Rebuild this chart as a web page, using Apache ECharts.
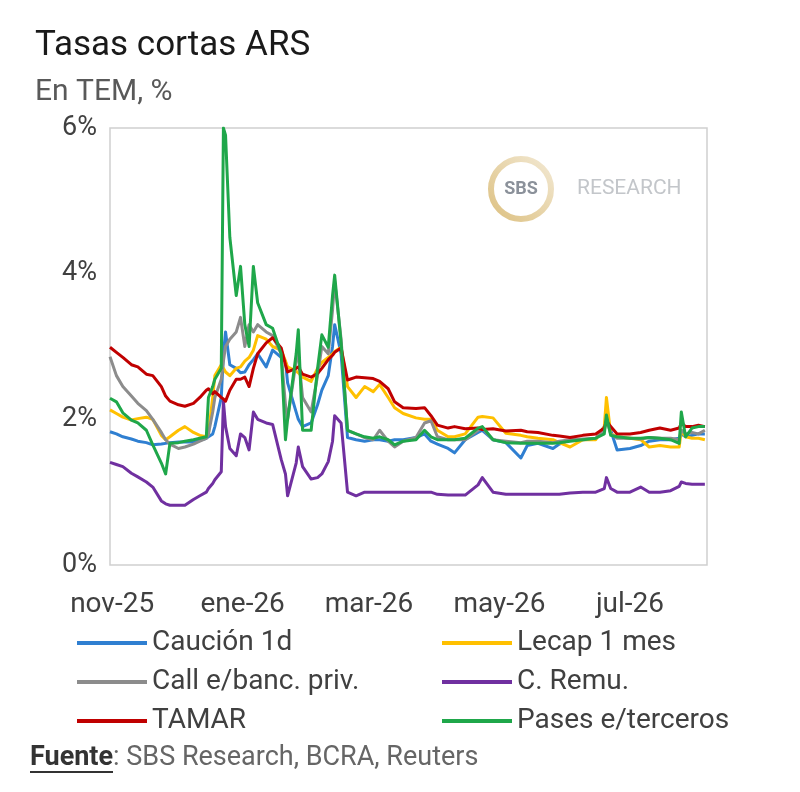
<!DOCTYPE html>
<html>
<head>
<meta charset="utf-8">
<title>Tasas cortas ARS</title>
<script src="https://cdn.jsdelivr.net/npm/echarts@6/dist/echarts.min.js"></script>
<style>
    html, body { margin: 0; padding: 0; background: #fff; }
    #chart { width: 800px; height: 792px; }
</style>
</head>
<body>
<div id="chart"></div>
<script>
// Tasas cortas ARS, TEM in %

const dates = [
    '2025-10-31', '2025-11-03', '2025-11-06', '2025-11-10', '2025-11-13', '2025-11-17', '2025-11-20', '2025-11-24', '2025-11-26', '2025-11-28',
    '2025-12-02', '2025-12-05', '2025-12-09', '2025-12-12', '2025-12-15', '2025-12-16', '2025-12-18', '2025-12-19', '2025-12-22', '2025-12-23',
    '2025-12-24', '2025-12-26', '2025-12-29', '2025-12-31', '2026-01-02', '2026-01-04', '2026-01-06', '2026-01-08', '2026-01-12', '2026-01-15',
    '2026-01-19', '2026-01-21', '2026-01-22', '2026-01-26', '2026-01-27', '2026-01-29', '2026-02-02', '2026-02-05', '2026-02-07', '2026-02-10',
    '2026-02-12', '2026-02-13', '2026-02-16', '2026-02-19', '2026-02-23', '2026-02-27', '2026-03-03', '2026-03-06', '2026-03-10', '2026-03-13',
    '2026-03-17', '2026-03-23', '2026-03-27', '2026-03-30', '2026-04-02', '2026-04-07', '2026-04-10', '2026-04-15', '2026-04-21', '2026-04-23',
    '2026-04-28', '2026-05-04', '2026-05-11', '2026-05-14', '2026-05-19', '2026-05-26', '2026-05-29', '2026-06-03', '2026-06-09', '2026-06-15',
    '2026-06-19', '2026-06-20', '2026-06-22', '2026-06-25', '2026-07-01', '2026-07-06', '2026-07-10', '2026-07-15', '2026-07-20', '2026-07-24',
    '2026-07-25', '2026-07-27', '2026-07-30', '2026-08-02', '2026-08-05',
];

const caucion = [
    1.83, 1.80, 1.76, 1.73, 1.70, 1.68, 1.65, 1.66, 1.67, 1.68,
    1.69, 1.69, 1.69, 1.71, 1.74, 1.76, 1.80, 1.90, 2.30, 2.90,
    3.20, 2.75, 2.70, 2.64, 2.65, 2.75, 2.82, 2.90, 2.72, 2.95,
    2.85, 2.80, 2.50, 2.10, 2.00, 1.90, 1.95, 2.20, 2.40, 2.60,
    3.00, 3.30, 2.90, 1.75, 1.72, 1.70, 1.72, 1.72, 1.70, 1.72,
    1.72, 1.75, 1.80, 1.70, 1.66, 1.60, 1.54, 1.72, 1.82, 1.85,
    1.72, 1.68, 1.47, 1.64, 1.67, 1.60, 1.66, 1.72, 1.72, 1.73,
    1.90, 2.00, 1.85, 1.58, 1.60, 1.64, 1.70, 1.72, 1.72, 1.74,
    1.80, 1.76, 1.78, 1.80, 1.80,
];

const lecap = [
    2.13, 2.08, 2.03, 1.99, 2.01, 2.03, 2.00, 1.78, 1.72, 1.76,
    1.85, 1.90, 1.82, 1.78, 1.76, 1.80, 2.30, 2.60, 2.75, 2.70,
    2.65, 2.60, 2.70, 2.72, 2.80, 2.85, 2.95, 3.15, 3.10, 3.00,
    2.95, 2.80, 2.72, 2.66, 2.64, 2.58, 2.52, 2.70, 2.78, 2.85,
    2.90, 2.93, 2.99, 2.45, 2.30, 2.45, 2.38, 2.48, 2.30, 2.16,
    2.08, 2.02, 2.00, 2.00, 1.85, 1.76, 1.76, 1.80, 2.03, 2.04,
    2.02, 1.81, 1.78, 1.76, 1.74, 1.72, 1.68, 1.62, 1.72, 1.72,
    1.90, 2.30, 1.80, 1.76, 1.74, 1.72, 1.62, 1.64, 1.62, 1.62,
    1.85, 1.76, 1.74, 1.74, 1.72,
];

const call = [
    2.86, 2.60, 2.45, 2.32, 2.22, 2.12, 2.00, 1.82, 1.72, 1.66,
    1.60, 1.62, 1.66, 1.70, 1.74, 1.80, 2.10, 2.30, 2.55, 2.80,
    3.00, 3.10, 3.20, 3.40, 3.00, 3.30, 3.20, 3.30, 3.20, 3.15,
    2.90, 2.20, 2.00, 2.80, 2.90, 2.30, 2.10, 2.60, 3.00, 2.90,
    3.50, 3.90, 3.10, 1.85, 1.80, 1.75, 1.72, 1.85, 1.70, 1.62,
    1.70, 1.75, 1.95, 1.98, 1.76, 1.72, 1.72, 1.72, 1.85, 1.88,
    1.72, 1.70, 1.68, 1.70, 1.70, 1.68, 1.70, 1.72, 1.73, 1.74,
    1.85, 2.00, 1.80, 1.74, 1.74, 1.73, 1.75, 1.74, 1.74, 1.72,
    1.85, 1.80, 1.82, 1.80, 1.85,
];

const remu = [
    1.41, 1.38, 1.35, 1.26, 1.21, 1.14, 1.07, 0.88, 0.84, 0.82,
    0.82, 0.82, 0.90, 0.95, 1.00, 1.05, 1.12, 1.17, 1.28, 2.25,
    1.90, 1.60, 1.50, 1.80, 1.75, 1.58, 2.10, 2.00, 1.95, 1.93,
    1.45, 1.25, 0.95, 1.40, 1.62, 1.35, 1.18, 1.20, 1.25, 1.42,
    1.70, 2.05, 1.95, 1.00, 0.95, 1.00, 1.00, 1.00, 1.00, 1.00,
    1.00, 1.00, 1.00, 1.00, 0.97, 0.96, 0.96, 0.96, 1.10, 1.20,
    1.00, 0.97, 0.97, 0.97, 0.97, 0.97, 0.97, 0.99, 1.00, 1.00,
    1.05, 1.20, 1.05, 1.00, 1.00, 1.07, 1.00, 1.00, 1.02, 1.08,
    1.14, 1.12, 1.11, 1.11, 1.11,
];

const tamar = [
    2.99, 2.92, 2.85, 2.75, 2.72, 2.62, 2.60, 2.45, 2.32, 2.25,
    2.20, 2.18, 2.22, 2.30, 2.40, 2.42, 2.35, 2.38, 2.30, 2.28,
    2.25, 2.40, 2.55, 2.55, 2.58, 2.45, 2.70, 2.90, 3.05, 3.12,
    2.98, 2.75, 2.65, 2.70, 2.72, 2.62, 2.58, 2.63, 2.70, 2.82,
    2.88, 2.92, 2.98, 2.54, 2.58, 2.57, 2.56, 2.52, 2.42, 2.24,
    2.16, 2.15, 2.16, 2.05, 1.92, 1.88, 1.90, 1.87, 1.88, 1.86,
    1.87, 1.84, 1.85, 1.83, 1.82, 1.78, 1.77, 1.75, 1.78, 1.80,
    1.88, 1.98, 1.90, 1.80, 1.80, 1.82, 1.85, 1.88, 1.85, 1.88,
    1.95, 1.90, 1.90, 1.92, 1.90,
];

const pases = [
    2.29, 2.24, 2.09, 1.99, 1.95, 1.85, 1.65, 1.40, 1.25, 1.67,
    1.68, 1.70, 1.72, 1.74, 1.76, 2.30, 2.45, 2.55, 2.70, 6.00,
    5.90, 4.50, 3.70, 4.10, 3.30, 3.00, 4.10, 3.60, 3.30, 3.25,
    2.90, 1.72, 2.00, 2.90, 3.23, 1.85, 1.85, 2.70, 3.16, 2.99,
    3.70, 3.98, 3.05, 1.85, 1.80, 1.76, 1.74, 1.76, 1.72, 1.65,
    1.70, 1.72, 1.85, 1.76, 1.72, 1.72, 1.72, 1.74, 1.88, 1.90,
    1.72, 1.68, 1.67, 1.67, 1.67, 1.67, 1.68, 1.70, 1.72, 1.74,
    1.80, 2.06, 1.78, 1.76, 1.74, 1.74, 1.75, 1.74, 1.72, 1.67,
    2.10, 1.76, 1.88, 1.90, 1.90,
];

const yTicks = [0, 2, 4, 6];
const xTicks = ['2025-11-01', '2026-01-01', '2026-03-01', '2026-05-01', '2026-07-01'];
const MESES = ['ene', 'feb', 'mar', 'abr', 'may', 'jun', 'jul', 'ago', 'sep', 'oct', 'nov', 'dic'];

const COLORS = {
    caucion: '#2F7FD1',
    lecap: '#FFC000',
    call: '#8C8C8C',
    remu: '#7030A0',
    tamar: '#C00000',
    pases: '#1FA74A',
    text: '#404040',
    title: '#1a1a1a',
    sub: '#595959',
    border: '#d0d0d0',
};

const FONT = 'Roboto, "Noto Sans", sans-serif';

function toTime(s) {
    const p = s.split('-').map(Number);
    return new Date(p[0], p[1] - 1, p[2]).getTime();
}

function monthLabel(v) {
    const d = new Date(v);
    return MESES[d.getMonth()] + '-' + String(d.getFullYear()).slice(2);
}

function makeLine(name, values, color) {
    return {
        name,
        type: 'line',
        data: values.map((v, i) => [toTime(dates[i]), v]),
        symbol: 'none',
        smooth: false,
        color,
        lineStyle: { width: 3, color, join: 'round' },
        emphasis: { disabled: true },
    };
}

const legendBase = {
    orient: 'vertical',
    top: 624,
    icon: 'rect',
    itemWidth: 70,
    itemHeight: 4,
    itemGap: 11,
    selectedMode: false,
    textStyle: { color: COLORS.text, fontSize: 28, fontFamily: FONT, lineHeight: 28 },
};

const chart = echarts.init(document.getElementById('chart'), null, { renderer: 'canvas' });

chart.setOption({
    animation: false,
    backgroundColor: '#fff',
    textStyle: { fontFamily: FONT },
    title: [
        { text: 'Tasas cortas ARS', left: 30, top: 24, textStyle: { fontSize: 35, fontWeight: 'normal', color: COLORS.title, fontFamily: FONT } },
        { text: 'En TEM, %', left: 30, top: 72, textStyle: { fontSize: 30, fontWeight: 'normal', color: COLORS.sub, fontFamily: FONT } },
    ],
    legend: [
        { ...legendBase, left: 72, data: ['Caución 1d', 'Call e/banc. priv.', 'TAMAR'] },
        { ...legendBase, left: 437, data: ['Lecap 1 mes', 'C. Remu.', 'Pases e/terceros'] },
    ],
    grid: {
        left: 110, right: 93, top: 128, bottom: 227,
        show: true, borderColor: COLORS.border, borderWidth: 1.5, backgroundColor: 'transparent',
    },
    xAxis: {
        type: 'value',
        min: toTime('2025-10-31'),
        max: toTime('2026-08-06'),
        axisLine: { show: false },
        axisTick: { show: false },
        splitLine: { show: false },
        axisLabel: {
            customValues: xTicks.map(toTime),
            formatter: v => monthLabel(v),
            color: COLORS.text,
            fontSize: 28,
            fontFamily: FONT,
            margin: 26,
            showMinLabel: true,
            showMaxLabel: true,
        },
    },
    yAxis: {
        type: 'value',
        min: yTicks[0],
        max: yTicks[yTicks.length - 1],
        interval: 2,
        axisLine: { show: false },
        axisTick: { show: false },
        splitLine: { show: false },
        axisLabel: { formatter: '{value}%', color: COLORS.text, fontSize: 27, fontFamily: FONT, margin: 13 },
    },
    graphic: [
        {
            type: 'group', left: 488, top: 156, silent: true,
            children: [
                {
                    type: 'circle', shape: { cx: 34, cy: 33, r: 30 },
                    style: {
                        fill: '#fff', lineWidth: 6,
                        stroke: { type: 'linear', x: 0, y: 1, x2: 1, y2: 0, colorStops: [{ offset: 0, color: '#dcbf7e' }, { offset: 1, color: '#f3ead6' }] },
                    },
                },
                { type: 'text', x: 34, y: 33, style: { text: 'SBS', fill: '#8b919a', font: 'bold 18px ' + FONT, align: 'center', verticalAlign: 'middle' } },
                { type: 'text', x: 90, y: 33, style: { text: 'RESEARCH', fill: '#c3c6ca', font: '21px ' + FONT, verticalAlign: 'middle' } },
            ],
        },
        {
            type: 'text', left: 30, top: 745, silent: true,
            style: {
                text: '{b|Fuente}{n|: SBS Research, BCRA, Reuters}',
                rich: {
                    b: { fontSize: 27, fontWeight: 'bold', fontFamily: FONT, fill: '#333' },
                    n: { fontSize: 27, fontFamily: FONT, fill: '#666' },
                },
            },
        },
        { type: 'line', silent: true, shape: { x1: 30, y1: 772, x2: 113, y2: 772 }, style: { stroke: '#333', lineWidth: 2 } },
    ],
    series: [
        makeLine('Caución 1d', caucion, COLORS.caucion),
        makeLine('Lecap 1 mes', lecap, COLORS.lecap),
        makeLine('Call e/banc. priv.', call, COLORS.call),
        makeLine('C. Remu.', remu, COLORS.remu),
        makeLine('TAMAR', tamar, COLORS.tamar),
        makeLine('Pases e/terceros', pases, COLORS.pases),
    ],
});
</script>
</body>
</html>
